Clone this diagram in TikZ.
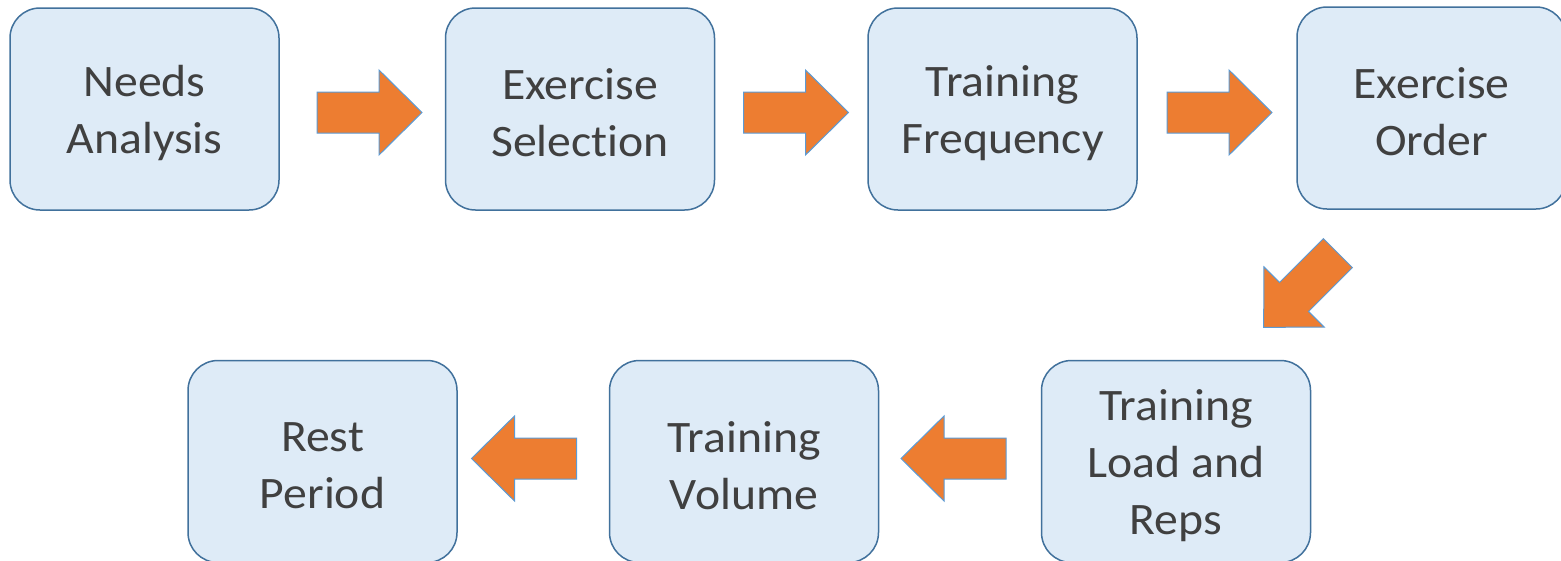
\documentclass[tikz,border=0pt]{standalone}
\usepackage{fontspec}
\setmainfont{Carlito}[FakeStretch=1.06, Ligatures=NoCommon]
\definecolor{boxfill}{HTML}{DEEBF7}
\definecolor{boxline}{HTML}{41719C}
\definecolor{arrowfill}{HTML}{ED7D31}
\definecolor{arrowline}{HTML}{5B9BD5}
\definecolor{labeltext}{HTML}{404040}
\tikzset{
  stepbox/.style={draw=boxline, line width=1.5pt, fill=boxfill,
    rounded corners=30pt, minimum width=269pt, minimum height=202pt,
    inner sep=0pt},
  steplabel/.style={inner sep=0pt, align=center, text=labeltext, yshift=-4pt,
    font=\fontsize{45pt}{57pt}\selectfont},
  arrowbody/.style={draw=arrowline, line width=1pt, fill=arrowfill, line join=miter},
  blockarrow/.pic={
    \path[arrowbody] (-52.5,-20.5) -- (9.5,-20.5) -- (9.5,-42.5) -- (52.5,0)
      -- (9.5,42.5) -- (9.5,20.5) -- (-52.5,20.5) -- cycle;
  }
}
\begin{document}
\begin{tikzpicture}[x=1pt, y=-1pt]
  \useasboundingbox (0,0) rectangle (1561,560);
  \clip (0,0) rectangle (1561,560);
  \fill[white] (0,0) rectangle (1561,560);

  % top row
  \node[stepbox, label={[steplabel]center:Needs\\Analysis}]     (needs)  at (144.5,109)  {};
  \node[stepbox, label={[steplabel]center:Exercise\\Selection}] (select) at (580,109)    {};
  \node[stepbox, label={[steplabel]center:Training\\Frequency}] (freq)   at (1002.5,109) {};
  \node[stepbox, label={[steplabel]center:Exercise\\Order}]     (order)  at (1431.5,108) {};

  % bottom row
  \node[stepbox, label={[steplabel]center:Training\\Load and\\Reps}] (load) at (1176,461.5) {};
  \node[stepbox, label={[steplabel]center:Training\\Volume}] (volume) at (744,461.5)  {};
  \node[stepbox, label={[steplabel]center:Rest\\Period}]     (rest)   at (322.5,461.5) {};

  % block arrows between the steps
  \pic (a1) at (369.5,112.5) {blockarrow};
  \pic (a2) at (796,112.5)   {blockarrow};
  \pic (a3) at (1219.5,112.5){blockarrow};
  \pic[rotate=225] (a4) at (1300.75,290.25) {blockarrow};
  \pic[rotate=180] (a5) at (953.5,458.5) {blockarrow};
  \pic[rotate=180] (a6) at (524,458.5)   {blockarrow};
\end{tikzpicture}
\end{document}
